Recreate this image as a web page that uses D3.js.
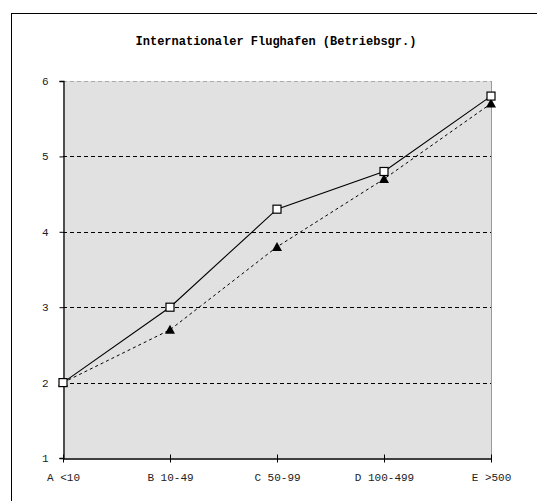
<!DOCTYPE html>
<html>
<head>
<meta charset="utf-8">
<script src="https://cdn.jsdelivr.net/npm/d3@7"></script>
<style>
  html, body { margin: 0; padding: 0; background: #fff; }
  svg { display: block; }
  text { font-family: "Liberation Mono", "Courier New", monospace; }
</style>
</head>
<body>
<svg id="chart" width="537" height="501"></svg>
<script>
const title = "Internationaler Flughafen (Betriebsgr.)";
const categories = ["A <10", "B 10-49", "C 50-99", "D 100-499", "E >500"];
const seriesSquares = [2.0, 3.0, 4.3, 4.8, 5.8];
const seriesTriangles = [2.0, 2.7, 3.8, 4.7, 5.7];
const yTicks = [1, 2, 3, 4, 5, 6];

const svg = d3.select("#chart");
const W = 537, H = 501;
const plot = { left: 63, right: 491, top: 81, bottom: 458 };

// outer frame
svg.append("rect")
  .attr("x", 11.5).attr("y", 13.5)
  .attr("width", W).attr("height", H)
  .attr("fill", "#fff").attr("stroke", "#000").attr("stroke-width", 1);

const x = d3.scalePoint().domain(categories).range([plot.left, plot.right]);
const y = d3.scaleLinear().domain([1, 6]).range([plot.bottom, plot.top]);

// plot background
svg.append("rect")
  .attr("x", plot.left).attr("y", plot.top)
  .attr("width", plot.right - plot.left).attr("height", plot.bottom - plot.top)
  .attr("fill", "#e1e1e1");

// right and top borders
svg.append("line")
  .attr("x1", plot.right + 0.5).attr("x2", plot.right + 0.5)
  .attr("y1", plot.top).attr("y2", plot.bottom)
  .attr("stroke", "#999").attr("stroke-width", 1);
svg.append("line")
  .attr("x1", plot.left).attr("x2", plot.right)
  .attr("y1", y(6) + 0.5).attr("y2", y(6) + 0.5)
  .attr("stroke", "#aaa").attr("stroke-width", 1).attr("stroke-dasharray", "4,3");

// gridlines
svg.append("g").selectAll("line")
  .data(yTicks.filter(d => d > 1 && d < 6))
  .join("line")
  .attr("x1", plot.left).attr("x2", plot.right)
  .attr("y1", d => Math.round(y(d)) + 0.5).attr("y2", d => Math.round(y(d)) + 0.5)
  .attr("stroke", "#000").attr("stroke-width", 1).attr("stroke-dasharray", "4,3");

// y axis
const yAxis = svg.append("g")
  .attr("transform", `translate(${plot.left + 0.5},0)`)
  .call(d3.axisLeft(y).tickValues(yTicks).tickSize(4).tickPadding(11).tickFormat(d3.format("d")));
yAxis.select(".domain").attr("stroke", "#000").attr("stroke-width", 1.3);
yAxis.selectAll(".tick line").attr("stroke", "#000");
yAxis.selectAll(".tick text").attr("font-size", 11).attr("fill", "#222")
  .style("font-family", "'Liberation Mono', monospace");

// x axis
const xAxis = svg.append("g")
  .attr("transform", `translate(0,${plot.bottom + 0.5})`)
  .call(d3.axisBottom(x).tickSizeInner(5).tickSizeOuter(0).tickPadding(10));
xAxis.selectAll(".tick line").attr("y1", -4).attr("y2", 4).attr("stroke", "#000");
xAxis.select(".domain").attr("stroke", "#000").attr("stroke-width", 1.3);
xAxis.selectAll(".tick text").attr("font-size", 11).attr("fill", "#222")
  .style("font-family", "'Liberation Mono', monospace");

// title
svg.append("text")
  .attr("x", 276).attr("y", 45)
  .attr("text-anchor", "middle")
  .attr("font-size", 12).attr("font-weight", "bold")
  .text(title);

const line = d3.line().x((d, i) => x(categories[i])).y(d => y(d));

// dotted series with triangles
svg.append("path")
  .datum(seriesTriangles)
  .attr("d", line)
  .attr("fill", "none").attr("stroke", "#000").attr("stroke-width", 1)
  .attr("stroke-dasharray", "3,3");

svg.append("g").selectAll("path")
  .data(seriesTriangles)
  .join("path")
  .attr("transform", (d, i) => `translate(${x(categories[i])},${y(d)})`)
  .attr("d", "M0,-5 L5,4 L-5,4 Z")
  .attr("fill", "#000");

// solid series with squares
svg.append("path")
  .datum(seriesSquares)
  .attr("d", line)
  .attr("fill", "none").attr("stroke", "#000").attr("stroke-width", 1.1);

svg.append("g").selectAll("rect")
  .data(seriesSquares)
  .join("rect")
  .attr("x", (d, i) => x(categories[i]) - 4)
  .attr("y", d => y(d) - 4)
  .attr("width", 8).attr("height", 8)
  .attr("fill", "#fff").attr("stroke", "#000").attr("stroke-width", 1.2);
</script>
</body>
</html>
